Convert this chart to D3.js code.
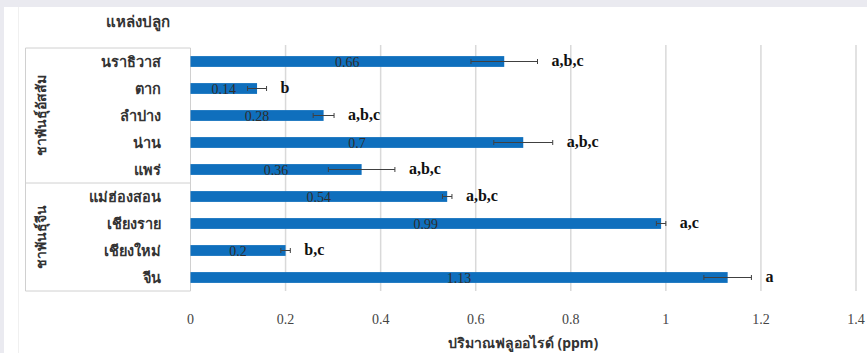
<!DOCTYPE html>
<html>
<head>
<meta charset="utf-8">
<script src="https://cdn.jsdelivr.net/npm/d3@7"></script>
<style>
  body { margin: 0; background: #eaeaf0; }
  svg { display: block; }
  .thai { font-family: "Noto Sans", "Liberation Sans", sans-serif; fill: #333; }
  .num { font-family: "Liberation Serif", "DejaVu Serif", serif; fill: #3a3a3a; }
</style>
</head>
<body>
<svg id="plot"></svg>
<script>
var width = 867;
var height = 353;

// data
var provinces = ["นราธิวาส", "ตาก", "ลำปาง", "น่าน", "แพร่", "แม่ฮ่องสอน", "เชียงราย", "เชียงใหม่", "จีน"];
var fluoride = [0.66, 0.14, 0.28, 0.7, 0.36, 0.54, 0.99, 0.2, 1.13];
var errors = [0.07, 0.02, 0.022, 0.062, 0.07, 0.01, 0.01, 0.01, 0.05];
var letters = ["a,b,c", "b", "a,b,c", "a,b,c", "a,b,c", "a,b,c", "a,c", "b,c", "a"];
var groups = ["ชาพันธุ์อัสสัม", "ชาพันธุ์จีน"];
var groupSizes = [5, 4];
var xTicks = [0, 0.2, 0.4, 0.6, 0.8, 1, 1.2, 1.4];
var title = "แหล่งปลูก";
var xTitle = "ปริมาณฟลูออไรด์ (ppm)";

var svg = d3.select("#plot")
    .attr("width", width)
    .attr("height", height);

svg.append("rect")
    .attr("x", 4).attr("y", 7)
    .attr("width", width - 4).attr("height", height - 7)
    .attr("fill", "#ffffff");
svg.append("line")
    .attr("x1", 18.5).attr("x2", 18.5).attr("y1", 7).attr("y2", height)
    .attr("stroke", "#f0f0f0");

var plotTop = 48, plotBottom = 291, plotLeft = 190.5, plotRight = 856;

var xScale = d3.scaleLinear()
    .domain([0, 1.4])
    .range([plotLeft, plotRight]);
var yScale = d3.scaleBand()
    .domain(provinces)
    .range([plotTop, plotBottom])
    .paddingInner(0.6)
    .paddingOuter(0.3);
var step = yScale.step();

// grid
svg.append("g")
    .selectAll("line")
    .data(xTicks.slice(1))
    .enter()
    .append("line")
    .attr("x1", d => xScale(d)).attr("x2", d => xScale(d))
    .attr("y1", plotTop - 3).attr("y2", plotBottom)
    .attr("stroke", "#d9d9d9")
    .attr("stroke-width", 1.5);

// category table
var tableLeft = 25.5;
function hline(y) {
    svg.append("line")
        .attr("x1", tableLeft).attr("x2", plotLeft).attr("y1", y).attr("y2", y)
        .attr("stroke", "#d0d0d0");
}
function vline(x) {
    svg.append("line")
        .attr("x1", x).attr("x2", x).attr("y1", plotTop).attr("y2", plotBottom)
        .attr("stroke", "#d0d0d0");
}
hline(plotTop);
hline(plotBottom);
vline(tableLeft);
vline(plotLeft);

var start = 0;
groups.forEach(function (g, i) {
    var y0 = plotTop + start * step;
    var y1 = plotTop + (start + groupSizes[i]) * step;
    if (i > 0) hline(y0);
    svg.append("text")
        .attr("class", "thai")
        .attr("transform", "translate(" + 46 + "," + ((y0 + y1) / 2) + ") rotate(-90)")
        .attr("text-anchor", "middle")
        .attr("font-size", 14)
        .attr("font-weight", "bold")
        .text(g);
    start += groupSizes[i];
});

svg.append("g")
    .selectAll("text")
    .data(provinces)
    .enter()
    .append("text")
    .attr("class", "thai")
    .attr("x", 161)
    .attr("y", d => yScale(d) + yScale.bandwidth() / 2 + 5)
    .attr("text-anchor", "end")
    .attr("font-size", 14.5)
    .attr("font-weight", "bold")
    .text(d => d);

// bars
svg.append("g")
    .selectAll("rect")
    .data(provinces)
    .enter()
    .append("rect")
    .attr("x", xScale(0))
    .attr("y", d => yScale(d))
    .attr("width", (d, i) => xScale(fluoride[i]) - xScale(0))
    .attr("height", yScale.bandwidth())
    .attr("fill", "#0f6fbd");

// value labels
svg.append("g")
    .selectAll("text")
    .data(provinces)
    .enter()
    .append("text")
    .attr("class", "num")
    .attr("x", (d, i) => (xScale(0) + xScale(fluoride[i])) / 2)
    .attr("y", d => yScale(d) + yScale.bandwidth() / 2 + 5.5)
    .attr("text-anchor", "middle")
    .attr("font-size", 14)
    .style("fill", "#2e2e2e")
    .text((d, i) => fluoride[i]);

// error bars
var eb = svg.append("g").attr("stroke", "#404040").attr("stroke-width", 1);
provinces.forEach(function (p, i) {
    var cy = yScale(p) + yScale.bandwidth() / 2;
    var x0 = xScale(fluoride[i] - errors[i]);
    var x1 = xScale(fluoride[i] + errors[i]);
    eb.append("line").attr("x1", x0).attr("x2", x1).attr("y1", cy).attr("y2", cy);
    eb.append("line").attr("x1", x0).attr("x2", x0).attr("y1", cy - 2.5).attr("y2", cy + 2.5);
    eb.append("line").attr("x1", x1).attr("x2", x1).attr("y1", cy - 2.5).attr("y2", cy + 2.5);
});

// significance letters
svg.append("g")
    .selectAll("text")
    .data(provinces)
    .enter()
    .append("text")
    .attr("class", "num")
    .attr("x", (d, i) => xScale(fluoride[i] + errors[i]) + 14)
    .attr("y", d => yScale(d) + yScale.bandwidth() / 2 + 4)
    .attr("font-size", 16)
    .attr("font-weight", "bold")
    .style("fill", "#111")
    .text((d, i) => letters[i]);

// x axis tick labels
svg.append("g")
    .selectAll("text")
    .data(xTicks)
    .enter()
    .append("text")
    .attr("class", "num")
    .attr("x", d => xScale(d))
    .attr("y", 324)
    .attr("text-anchor", "middle")
    .attr("font-size", 14)
    .style("fill", "#444")
    .text(d => d);

svg.append("text")
    .attr("class", "thai")
    .attr("x", 523)
    .attr("y", 348)
    .attr("text-anchor", "middle")
    .attr("font-size", 14)
    .attr("font-weight", "bold")
    .text(xTitle);

svg.append("text")
    .attr("class", "thai")
    .attr("x", 138)
    .attr("y", 27)
    .attr("text-anchor", "middle")
    .attr("font-size", 15)
    .attr("font-weight", "bold")
    .text(title);
</script>
</body>
</html>
